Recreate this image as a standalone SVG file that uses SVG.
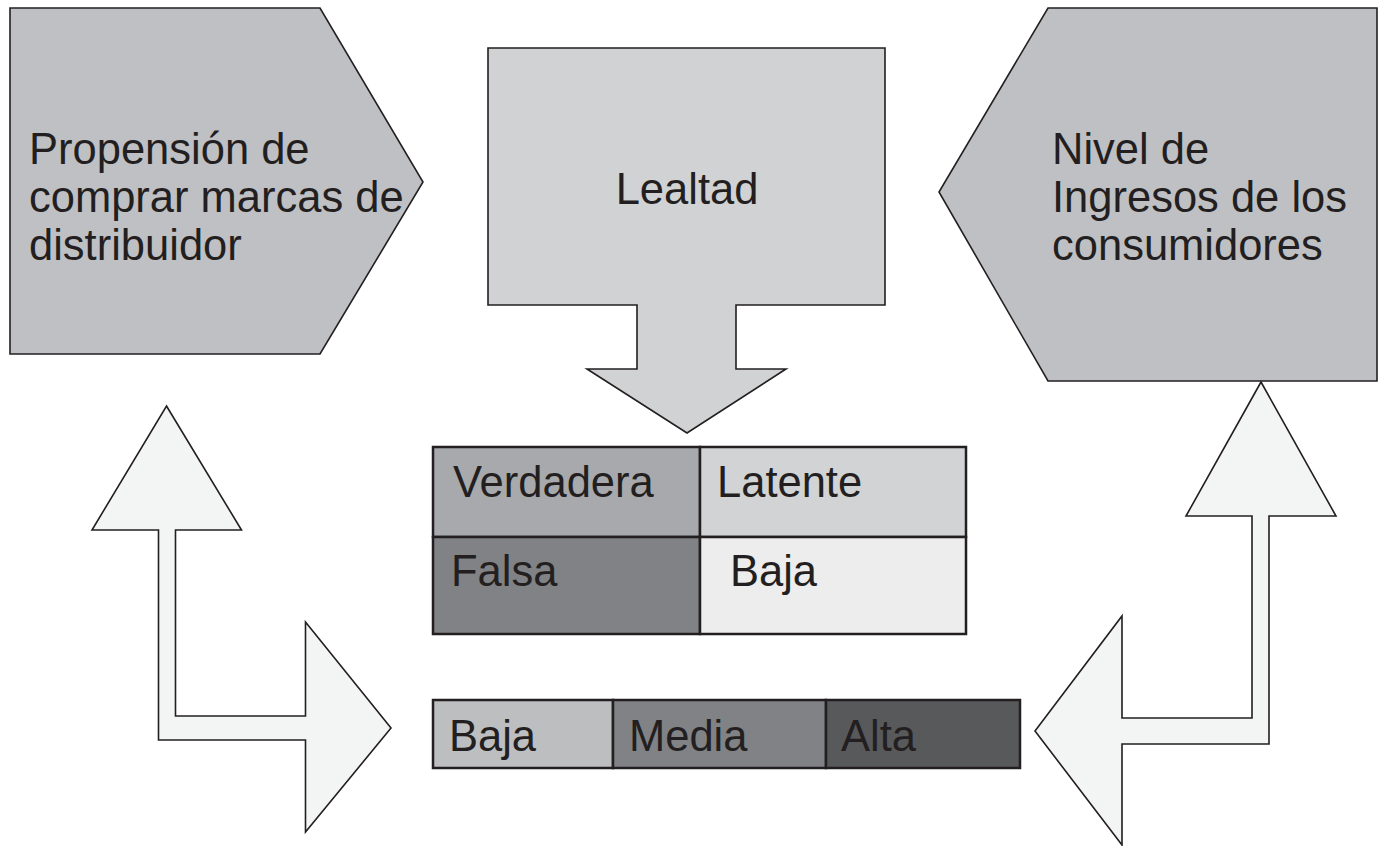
<svg xmlns="http://www.w3.org/2000/svg" width="1383" height="846" viewBox="0 0 1383 846">
<style>
  .shape { stroke: #231f20; stroke-width: 1.6; stroke-linejoin: miter; }
  .cell { stroke: #231f20; stroke-width: 2.5; }
  .txt { font-family: "Liberation Sans", Arial, sans-serif; font-size: 43.5px; fill: #231f20; }
  .pent { fill: #bfc0c4; }
  .conn { fill: #f3f4f4; }
</style>
<rect width="1383" height="846" fill="#ffffff"/>

<g id="propension">
  <polygon class="shape pent" points="10,8 320,8 423,182 320,354 10,354"/>
  <text class="txt" x="29" y="164">Propensión de</text>
  <text class="txt" x="29" y="212">comprar marcas de</text>
  <text class="txt" x="29" y="260">distribuidor</text>
</g>

<g id="lealtad">
  <polygon class="shape" fill="#d1d2d4" points="488,48 885,48 885,305 736,305 736,369 786,369 687,433 587,369 637,369 637,305 488,305"/>
  <text class="txt" x="687" y="204" text-anchor="middle">Lealtad</text>
</g>

<g id="ingresos">
  <polygon class="shape pent" points="1048,8 1377,8 1377,381 1048,381 939,192"/>
  <text class="txt" x="1052" y="164">Nivel de</text>
  <text class="txt" x="1052" y="212">Ingresos de los</text>
  <text class="txt" x="1052" y="260">consumidores</text>
</g>

<g id="tabla-lealtad">
  <rect class="cell" x="433" y="447" width="267" height="90" fill="#a7a9ac"/>
  <rect class="cell" x="700" y="447" width="266" height="90" fill="#d1d3d4"/>
  <rect class="cell" x="433" y="537" width="267" height="97" fill="#808285"/>
  <rect class="cell" x="700" y="537" width="266" height="97" fill="#ededed"/>
  <text class="txt" x="453" y="497">Verdadera</text>
  <text class="txt" x="717" y="497">Latente</text>
  <text class="txt" x="451" y="586">Falsa</text>
  <text class="txt" x="730" y="586">Baja</text>
</g>

<g id="barra-niveles">
  <rect class="cell" x="433" y="700" width="180" height="68" fill="#bcbec0"/>
  <rect class="cell" x="613" y="700" width="213" height="68" fill="#808285"/>
  <rect class="cell" x="826" y="700" width="194" height="68" fill="#58595b"/>
  <text class="txt" x="449" y="751">Baja</text>
  <text class="txt" x="629" y="751">Media</text>
  <text class="txt" x="841" y="751">Alta</text>
</g>

<g id="connectors">
  <polygon id="flecha-izq" class="shape conn" points="166.5,406 241.5,530 175.5,530 175.5,716 305.5,716 305.5,622 391,728 305.5,832 305.5,740 158.5,740 158.5,530 92,530"/>
  <polygon id="flecha-der" class="shape conn" points="1261,382 1336,516 1269,516 1269,744 1122,744 1122,845 1035,731 1122,616 1122,718 1252,718 1252,516 1186,516"/>
</g>
</svg>
